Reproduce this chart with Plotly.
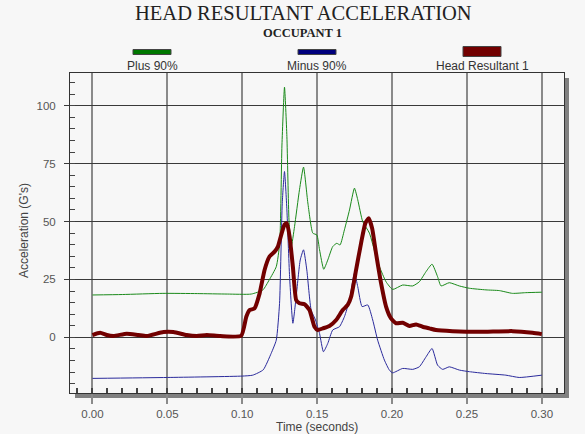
import plotly.graph_objects as go

# ---------------- data ----------------
plus_t = [0, 0.02, 0.047, 0.07, 0.09, 0.106, 0.1138, 0.118, 0.1227, 0.1250, 0.1265, 0.1282, 0.1298,
          0.1312, 0.1327, 0.1349, 0.1382, 0.1409, 0.1438, 0.1471, 0.1498, 0.1516, 0.1544, 0.1571,
          0.1604, 0.1631, 0.1653, 0.1682, 0.1716, 0.1749, 0.1771, 0.1804, 0.1849, 0.1893, 0.1916,
          0.1960, 0.2004, 0.2071, 0.2138, 0.2182, 0.2227, 0.2267, 0.2304, 0.2327, 0.2382, 0.2449,
          0.2516, 0.2627, 0.2716, 0.2804, 0.2893, 0.30]
plus_v = [18.3, 18.5, 19.0, 18.9, 18.7, 18.7, 20.5, 24.8, 30.5, 40.6, 83, 108, 86.7,
          50.7, 39, 47.8, 63.7, 73.5, 58, 45, 44.2, 37.8, 29.4, 33.4,
          39.2, 40.6, 39.9, 46.4, 55, 64.4, 59.4, 50, 45, 34.9, 30.5,
          24, 20.7, 22.6, 22.2, 24, 28.4, 31.6, 26.2, 22.2, 23.6, 22.2,
          21.2, 20.5, 20.2, 19.0, 19.3, 19.5]

minus_t = [0, 0.05, 0.10, 0.107, 0.114, 0.1193, 0.1227, 0.1249, 0.1267, 0.1282, 0.1298, 0.1316,
           0.1338, 0.1360, 0.1387, 0.1409, 0.1431, 0.1460, 0.1489, 0.1516, 0.1542, 0.1571, 0.1604,
           0.1649, 0.1682, 0.1716, 0.1749, 0.1771, 0.1800, 0.1838, 0.1871, 0.1904, 0.1949, 0.1982,
           0.2004, 0.2071, 0.2138, 0.2182, 0.2227, 0.2267, 0.2304, 0.2338, 0.2382, 0.2449, 0.2516,
           0.2627, 0.2760, 0.2849, 0.30]
minus_v = [-17.7, -17.3, -16.7, -16.3, -14, -6.9, -1.2, 14.7, 57.9, 71.6, 55, 26.2,
           6.1, 17.6, 33.4, 37.8, 29.1, 11.8, 7.5, 1.7, -6.2, -2.6, 3.2,
           4.6, 8.9, 16.1, 27.7, 21.9, 13.3, 14, 7.5, -1.2, -9.8, -14.1,
           -15.3, -13.4, -13.8, -12.7, -8.4, -4.8, -12, -13.8, -12.7, -14.1, -14.8,
           -15.6, -16.3, -17.3, -16.3]

head_t = [0, 0.0051, 0.0096, 0.014, 0.0229, 0.0307, 0.0363, 0.0474, 0.054, 0.0629, 0.0696, 0.0763,
          0.0852, 0.0993, 0.1027, 0.1049, 0.1082, 0.1116, 0.1149, 0.1182, 0.1216, 0.1238, 0.1260,
          0.1282, 0.1298, 0.1316, 0.1338, 0.1360, 0.1382, 0.1416, 0.1449, 0.1482, 0.1504, 0.1538,
          0.1582, 0.1627, 0.1671, 0.1704, 0.1727, 0.1760, 0.1793, 0.1822, 0.1844, 0.1867, 0.1893,
          0.1927, 0.1960, 0.1993, 0.2027, 0.2071, 0.2116, 0.2160, 0.2204, 0.2249, 0.2293, 0.2404,
          0.2582, 0.2804, 0.2938, 0.30]
head_v = [1.0, 2.0, 1.0, 0.6, 1.6, 1.0, 0.6, 2.3, 2.3, 1.0, 0.6, 1.0,
          0.6, 0.7, 8.9, 11.8, 12.5, 19, 29.1, 34.9, 37, 39.2, 44.2,
          48.6, 49.3, 43.5, 30.5, 16.1, 14.7, 14.3, 11.8, 4.6, 3.2, 3.9,
          4.9, 7.5, 11.8, 14, 17.6, 29.1, 40.6, 49.3, 51.4, 47.1, 36.3,
          23.3, 13.3, 8.2, 6.1, 6.3, 4.9, 5.6, 4.6, 3.9, 3.2, 2.7,
          2.4, 2.7, 2.0, 1.4]

series_names = ["Plus 90%", "Minus 90%", "Head Resultant 1"]
series_colors = ["#007800", "#00007c", "#720000"]
x_ticks = [0.00, 0.05, 0.10, 0.15, 0.20, 0.25, 0.30]
y_ticks = [0, 25, 50, 75, 100]

# ---------------- geometry helpers (pixel -> paper) ----------------
W, H = 585, 434
ML, MR, MT, MB = 70, 21, 73, 41
PW, PH = W - ML - MR, H - MT - MB


def px(x):
    return (x - ML) / PW


def py(y):
    return (H - MB - y) / PH


BG = "#f7f7f7"
SANS = "Liberation Sans, Arial, sans-serif"
SERIF = "Liberation Serif, Times New Roman, serif"

fig = go.Figure()
fig.add_trace(go.Scatter(x=plus_t, y=plus_v, mode="lines", name=series_names[0],
                         line=dict(color="#1a8a1a", width=1, shape="spline", smoothing=0.5)))
fig.add_trace(go.Scatter(x=minus_t, y=minus_v, mode="lines", name=series_names[1],
                         line=dict(color="#2a2a9c", width=1, shape="spline", smoothing=0.5)))
fig.add_trace(go.Scatter(x=head_t, y=head_v, mode="lines", name=series_names[2],
                         line=dict(color=series_colors[2], width=4, shape="spline", smoothing=0.5)))

shapes = []
# drop shadow of the plot frame
shapes.append(dict(type="rect", xref="paper", yref="paper", x0=px(75), x1=px(569), y0=py(398), y1=py(393),
                   fillcolor="#808080", line=dict(width=0), layer="below"))
shapes.append(dict(type="rect", xref="paper", yref="paper", x0=px(564), x1=px(569), y0=py(398), y1=py(78),
                   fillcolor="#808080", line=dict(width=0), layer="below"))

annotations = []
# legend swatches (above text)
legend_centers = [152, 317, 482]
for i, (name, col) in enumerate(zip(series_names, series_colors)):
    cx = legend_centers[i]
    if i == 2:
        y0, y1 = 46.5, 56.5
    else:
        y0, y1 = 49.5, 54.5
    shapes.append(dict(type="rect", xref="paper", yref="paper", x0=px(cx - 19), x1=px(cx + 19),
                       y0=py(y1), y1=py(y0), fillcolor=col, line=dict(color="#444", width=1)))
    annotations.append(dict(text=name, xref="paper", yref="paper", x=px(cx), y=py(65.5),
                            xanchor="center", yanchor="middle", showarrow=False,
                            font=dict(family=SANS, size=12, color="#333")))

annotations.append(dict(text="HEAD RESULTANT ACCELERATION", xref="paper", yref="paper",
                        x=px(303), y=py(13.5), xanchor="center", yanchor="middle", showarrow=False,
                        font=dict(family=SERIF, size=20.5, color="#222")))
annotations.append(dict(text="<b>OCCUPANT 1</b>", xref="paper", yref="paper",
                        x=px(302), y=py(32.5), xanchor="center", yanchor="middle", showarrow=False,
                        font=dict(family=SERIF, size=12.5, color="#222")))
annotations.append(dict(text="Acceleration (G's)", xref="paper", yref="paper",
                        x=px(24), y=py(231), xanchor="center", yanchor="middle", showarrow=False,
                        textangle=-90, font=dict(family=SANS, size=12, color="#444")))
annotations.append(dict(text="Time (seconds)", xref="paper", yref="paper",
                        x=px(317), y=py(427), xanchor="center", yanchor="middle", showarrow=False,
                        font=dict(family=SANS, size=12, color="#444")))

fig.update_layout(
    width=W, height=H,
    margin=dict(l=ML, r=MR, t=MT, b=MB),
    paper_bgcolor=BG, plot_bgcolor=BG,
    showlegend=False,
    shapes=shapes, annotations=annotations,
    xaxis=dict(range=[-0.015, 0.3148], tickvals=x_ticks, ticktext=[f"{v:.2f}" for v in x_ticks],
               showgrid=True, gridcolor="#8a8a8a", gridwidth=1.5, zeroline=False,
               showline=True, linecolor="#333", linewidth=1, mirror=True,
               ticks="outside", ticklen=10, tickcolor="#8a8a8a", tickwidth=1.5,
               tickfont=dict(family=SANS, size=11.5, color="#555"),
               minor=dict(dtick=0.01, tick0=0, ticks="inside", ticklen=5, tickcolor="#444", showgrid=False)),
    yaxis=dict(range=[-24, 114.1], tickvals=y_ticks,
               showgrid=True, gridcolor="#3a3a3a", gridwidth=1, zeroline=False,
               showline=True, linecolor="#333", linewidth=1, mirror=True,
               ticks="outside", ticklen=5, tickcolor="#3a3a3a", ticklabelstandoff=6,
               tickfont=dict(family=SANS, size=11.5, color="#555"),
               minor=dict(dtick=5, tick0=0, ticks="inside", ticklen=5, tickcolor="#444", showgrid=False)),
)

fig.write_html("out.html", config={"displayModeBar": False},
               post_script="document.body.style.margin='0';document.body.style.padding='0';"
                           "document.body.style.background='#f7f7f7';")
